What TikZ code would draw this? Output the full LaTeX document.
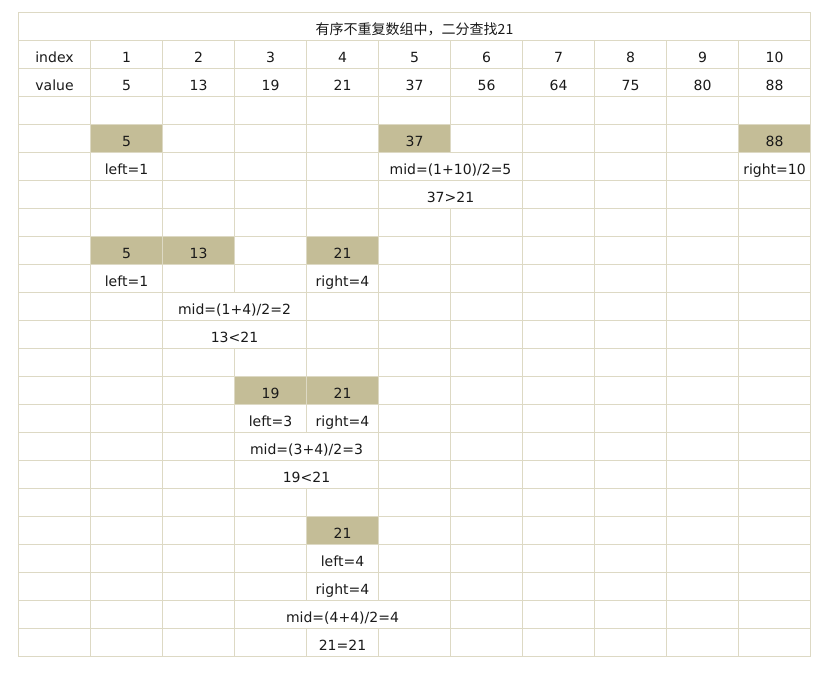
\documentclass[tikz,border=0pt]{standalone}
\usepackage{fontspec}
\newfontfamily\cellfont{DejaVu Sans}
\newfontfamily\cjkfont{Noto Sans CJK SC}
\definecolor{gridc}{HTML}{DDD9C4}
\definecolor{fillc}{HTML}{C4BD97}
\definecolor{textc}{HTML}{1A1A1A}
\tikzset{
  txt/.style={anchor=base, inner sep=0pt, text=textc, font=\cellfont\fontsize{14}{16}\selectfont},
  ttl/.style={anchor=base, inner sep=0pt, text=textc, font=\cjkfont\fontsize{14}{16}\selectfont},
  gridline/.style={draw=gridc, line width=1pt},
  hilite/.style={fill=fillc, draw=none}
}
\newcommand\celltext[4]{\node[txt] (#1) at ({54.5+72*#2},{34.5+28*#3}) {#4};}
\newcommand\cellfill[2]{\fill[hilite] ({18.5+72*#1},{12.5+28*#2}) rectangle ++(72,28);}
\begin{document}
\begin{tikzpicture}[x=1pt,y=-1pt]
\useasboundingbox (0,0) rectangle (829,677);
\fill[white] (0,0) rectangle (829,677);
% highlighted cells
\cellfill{1}{4}\cellfill{5}{4}\cellfill{10}{4}
\cellfill{1}{8}\cellfill{2}{8}\cellfill{4}{8}
\cellfill{3}{13}\cellfill{4}{13}
\cellfill{4}{18}
% horizontal lines
\foreach \r in {0,...,23} \draw[gridline] (18.5,{12.5+28*\r}) -- (810.5,{12.5+28*\r});
% outer verticals
\draw[gridline] (18.5,12.5) -- (18.5,656.5);
\draw[gridline] (810.5,12.5) -- (810.5,656.5);
% inner verticals
\foreach \j in {1,2,7,8,9,10} \draw[gridline] ({18.5+72*\j},40.5) -- ({18.5+72*\j},656.5);
\draw[gridline] (234.5,40.5) -- (234.5,292.5) (234.5,348.5) -- (234.5,656.5);
\draw[gridline] (306.5,40.5) -- (306.5,432.5) (306.5,488.5) -- (306.5,600.5) (306.5,628.5) -- (306.5,656.5);
\draw[gridline] (378.5,40.5) -- (378.5,600.5) (378.5,628.5) -- (378.5,656.5);
\draw[gridline] (450.5,40.5) -- (450.5,152.5) (450.5,208.5) -- (450.5,656.5);
% title
\node[ttl] (title) at (414.5,34.5) {有序不重复数组中，二分查找21};
% header rows
\celltext{idx}{0}{1}{index}
\celltext{val}{0}{2}{value}
\celltext{i1}{1}{1}{1}\celltext{i2}{2}{1}{2}\celltext{i3}{3}{1}{3}\celltext{i4}{4}{1}{4}\celltext{i5}{5}{1}{5}
\celltext{i6}{6}{1}{6}\celltext{i7}{7}{1}{7}\celltext{i8}{8}{1}{8}\celltext{i9}{9}{1}{9}\celltext{i10}{10}{1}{10}
\celltext{v1}{1}{2}{5}\celltext{v2}{2}{2}{13}\celltext{v3}{3}{2}{19}\celltext{v4}{4}{2}{21}\celltext{v5}{5}{2}{37}
\celltext{v6}{6}{2}{56}\celltext{v7}{7}{2}{64}\celltext{v8}{8}{2}{75}\celltext{v9}{9}{2}{80}\celltext{v10}{10}{2}{88}
% step 1
\celltext{a1}{1}{4}{5}\celltext{a5}{5}{4}{37}\celltext{a10}{10}{4}{88}
\celltext{aleft}{1}{5}{left=1}
\celltext{amid}{5.5}{5}{mid=(1+10)/2=5}
\celltext{aright}{10}{5}{right=10}
\celltext{acmp}{5.5}{6}{37>21}
% step 2
\celltext{b1}{1}{8}{5}\celltext{b2}{2}{8}{13}\celltext{b4}{4}{8}{21}
\celltext{bleft}{1}{9}{left=1}
\celltext{bright}{4}{9}{right=4}
\celltext{bmid}{2.5}{10}{mid=(1+4)/2=2}
\celltext{bcmp}{2.5}{11}{13<21}
% step 3
\celltext{c3}{3}{13}{19}\celltext{c4}{4}{13}{21}
\celltext{cleft}{3}{14}{left=3}
\celltext{cright}{4}{14}{right=4}
\celltext{cmid}{3.5}{15}{mid=(3+4)/2=3}
\celltext{ccmp}{3.5}{16}{19<21}
% step 4
\celltext{d4}{4}{18}{21}
\celltext{dleft}{4}{19}{left=4}
\celltext{dright}{4}{20}{right=4}
\celltext{dmid}{4}{21}{mid=(4+4)/2=4}
\celltext{dcmp}{4}{22}{21=21}
\end{tikzpicture}
\end{document}
